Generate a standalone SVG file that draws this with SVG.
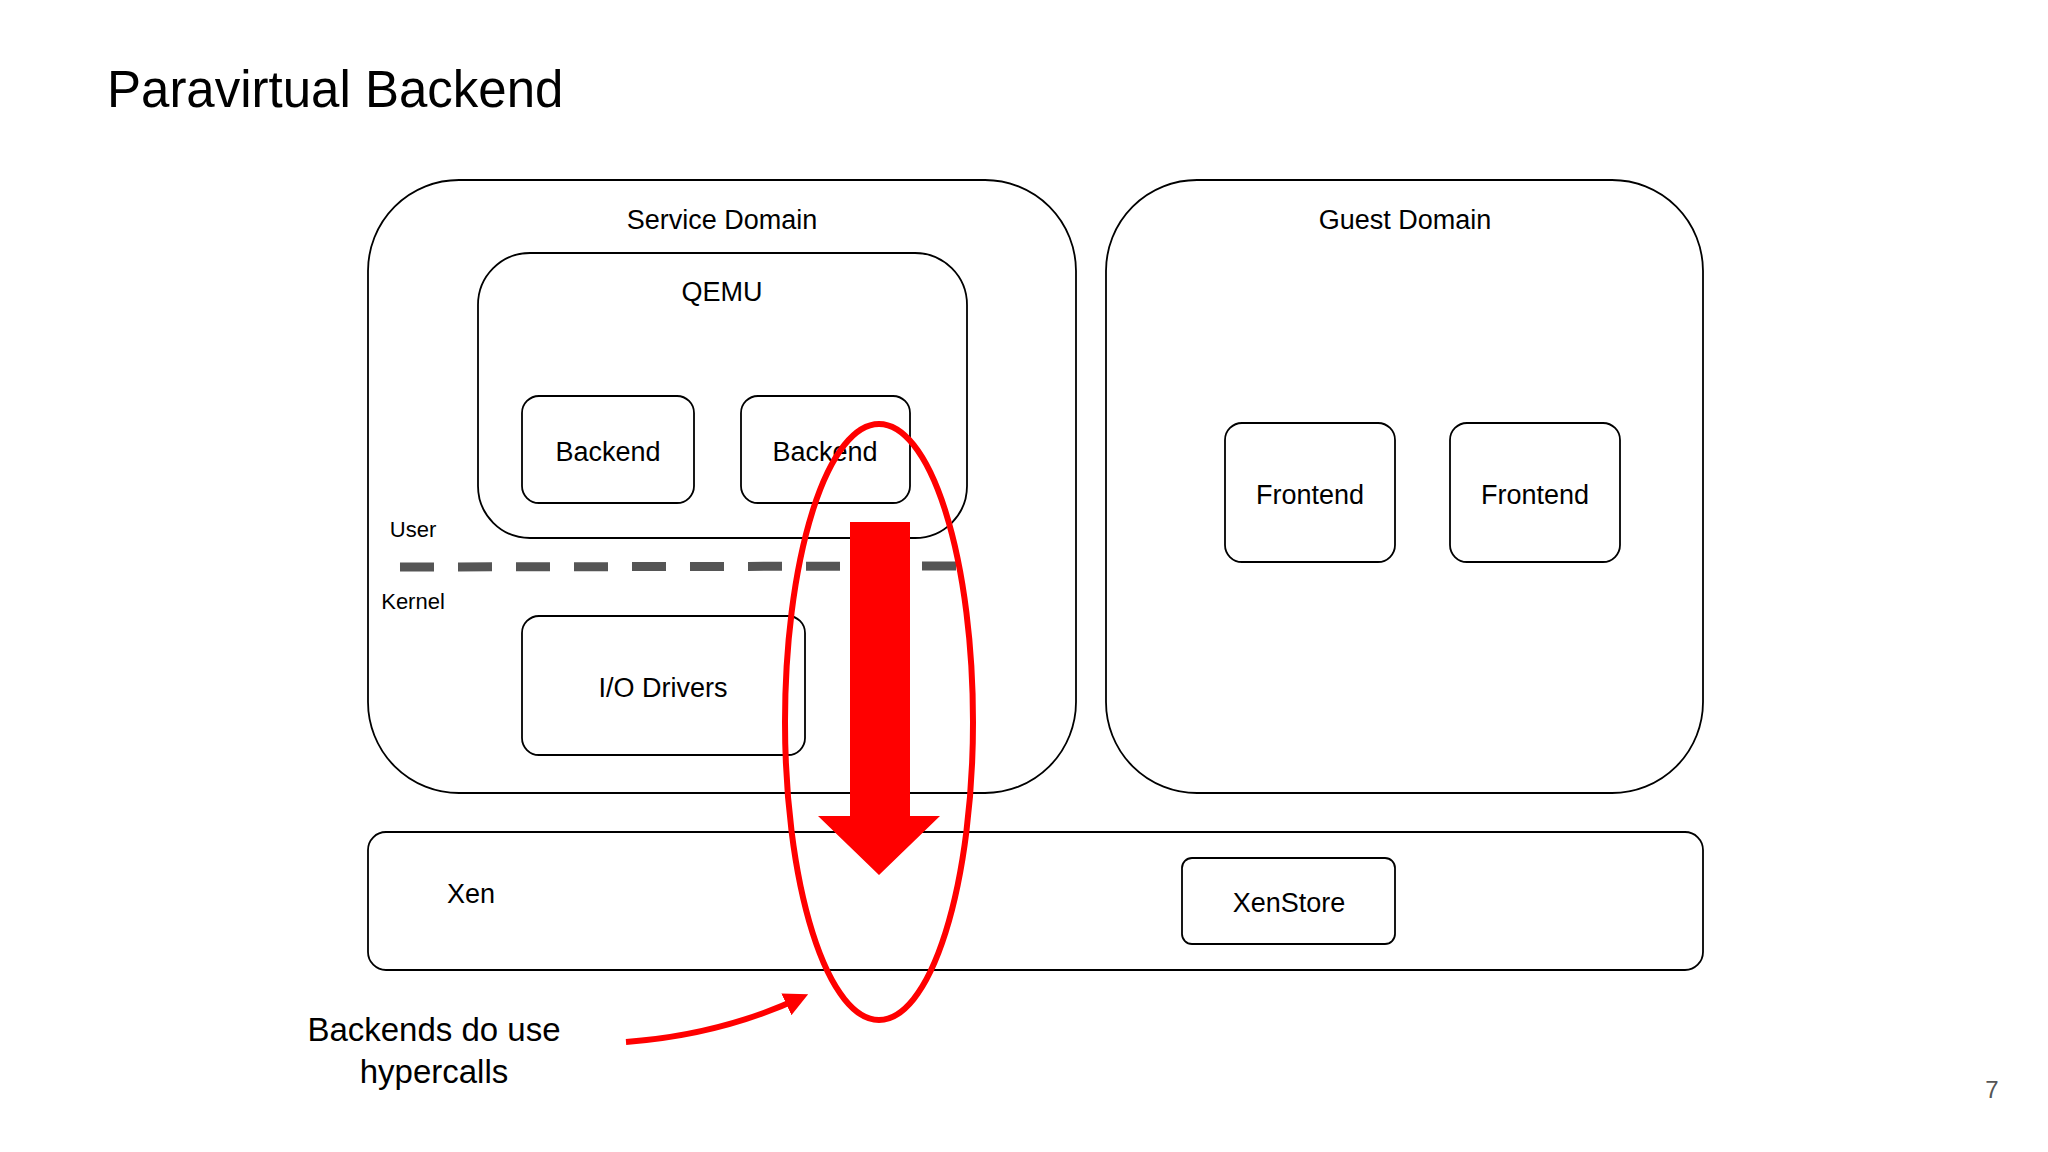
<svg xmlns="http://www.w3.org/2000/svg" width="2048" height="1152" viewBox="0 0 2048 1152">
<style>
.b{fill:none;stroke:#000;stroke-width:1.8}
text{font-family:"Liberation Sans",Arial,sans-serif;fill:#000}
.l{font-size:27px;text-anchor:middle;dominant-baseline:middle}
.s{font-size:22px;text-anchor:middle;dominant-baseline:middle}
</style>
<defs><marker id="ah" markerWidth="4" markerHeight="4" refX="2.5" refY="2" orient="auto"><path d="M0,0 L4,2 L0,4 Z" fill="#f00"/></marker></defs>
<rect width="2048" height="1152" fill="#fff"/>
<text x="107" y="107" font-size="51">Paravirtual Backend</text>
<g id="service"><rect class="b" x="368" y="180" width="708" height="613" rx="91"/><text class="l" x="722" y="222">Service Domain</text></g>
<g id="guest"><rect class="b" x="1106" y="180" width="597" height="613" rx="91"/><text class="l" x="1405" y="222">Guest Domain</text></g>
<g id="qemu"><rect class="b" x="478" y="253" width="489" height="285" rx="52"/><text class="l" x="722" y="294">QEMU</text></g>
<g id="backend1"><rect class="b" x="522" y="396" width="172" height="107" rx="17"/><text class="l" x="608" y="454">Backend</text></g>
<g id="backend2"><rect class="b" x="741" y="396" width="169" height="107" rx="17"/><text class="l" x="825" y="454">Backend</text></g>
<g id="user"><text class="s" x="413" y="531">User</text></g>
<g id="kernel"><text class="s" x="413" y="603">Kernel</text></g>
<g id="io"><rect class="b" x="522" y="616" width="283" height="139" rx="17"/><text class="l" x="663" y="690">I/O Drivers</text></g>
<g id="fe1"><rect class="b" x="1225" y="423" width="170" height="139" rx="17"/><text class="l" x="1310" y="497">Frontend</text></g>
<g id="fe2"><rect class="b" x="1450" y="423" width="170" height="139" rx="17"/><text class="l" x="1535" y="497">Frontend</text></g>
<g id="xen"><rect class="b" x="368" y="832" width="1335" height="138" rx="18"/><text class="l" x="471" y="896">Xen</text></g>
<g id="xenstore"><rect class="b" x="1182" y="858" width="213" height="86" rx="10"/><text class="l" x="1289" y="905">XenStore</text></g>
<g id="connectors">
<line x1="400" y1="567" x2="967" y2="566" stroke="#555" stroke-width="9" stroke-dasharray="34 24"/>
<path d="M850,522 H910 V816 H940 L879,875 L818,816 H850 Z" fill="#f00"/>
<ellipse cx="879" cy="722" rx="94" ry="298" fill="none" stroke="#f00" stroke-width="6"/>
<path d="M626,1042 Q720,1035 800,998" fill="none" stroke="#f00" stroke-width="6" marker-end="url(#ah)"/>
</g>
<text x="434" y="1041" font-size="33" text-anchor="middle">Backends do use</text>
<text x="434" y="1083" font-size="33" text-anchor="middle">hypercalls</text>
<text x="1992" y="1098" font-size="24" text-anchor="middle" style="fill:#555">7</text>
</svg>
